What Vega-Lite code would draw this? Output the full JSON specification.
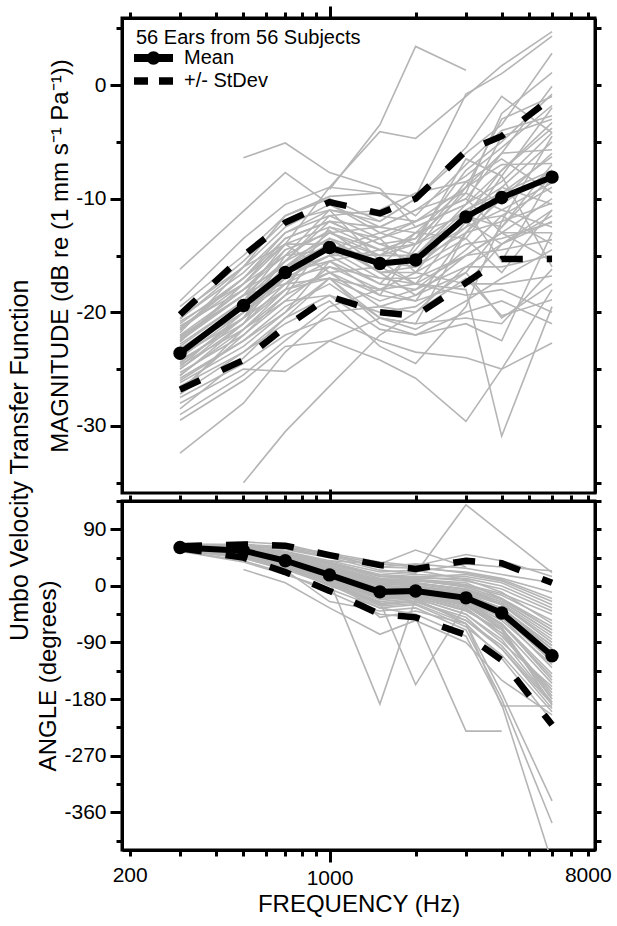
{
"$schema": "https://vega.github.io/schema/vega-lite/v6.json",
"padding": {"left": 8, "top": 3, "right": 5, "bottom": 5},
"background": "white",
"config": {
 "font": "Liberation Sans",
 "view": {"stroke": "black", "strokeWidth": 3},
 "axis": {"domainColor": "black", "domainWidth": 3, "tickColor": "black", "tickWidth": 3, "labelColor": "black", "labelFont": "Liberation Sans", "labelFontSize": 21, "titleFont": "Liberation Sans", "titleFontSize": 24, "titleFontWeight": "normal", "titleColor": "black", "grid": false, "labelOverlap": false, "labelFlush": false}
},
"title": {"text": "Umbo Velocity Transfer Function", "orient": "left", "anchor": "middle", "fontSize": 25, "fontWeight": "normal", "font": "Liberation Sans", "color": "black", "offset": 2},
"bounds": "flush",
"spacing": 8,
"resolve": {"scale": {"x": "independent", "y": "independent", "shape": "independent"}, "legend": {"shape": "independent"}},
"datasets": {
"stats": [
{"s":"Mean","leg":"Mean","f":300,"m":-23.6,"a":61},{"s":"Mean","leg":"Mean","f":500,"m":-19.4,"a":56},{"s":"Mean","leg":"Mean","f":700,"m":-16.5,"a":40},{"s":"Mean","leg":"Mean","f":1000,"m":-14.3,"a":17.5},{"s":"Mean","leg":"Mean","f":1500,"m":-15.7,"a":-9.5},{"s":"Mean","leg":"Mean","f":2000,"m":-15.4,"a":-8},{"s":"Mean","leg":"Mean","f":3000,"m":-11.6,"a":-19},{"s":"Mean","leg":"Mean","f":4000,"m":-9.9,"a":-43},{"s":"Mean","leg":"Mean","f":6000,"m":-8.1,"a":-111},
{"s":"Upper","leg":"+/- StDev","f":300,"m":-20.2,"a":63},{"s":"Upper","leg":"+/- StDev","f":500,"m":-15.0,"a":66},{"s":"Upper","leg":"+/- StDev","f":700,"m":-12.1,"a":64},{"s":"Upper","leg":"+/- StDev","f":1000,"m":-10.3,"a":49},{"s":"Upper","leg":"+/- StDev","f":1500,"m":-11.3,"a":33},{"s":"Upper","leg":"+/- StDev","f":2000,"m":-10.0,"a":27},{"s":"Upper","leg":"+/- StDev","f":3000,"m":-5.8,"a":40},{"s":"Upper","leg":"+/- StDev","f":4000,"m":-4.5,"a":36},{"s":"Upper","leg":"+/- StDev","f":6000,"m":-1.1,"a":5},
{"s":"Lower","leg":"+/- StDev","f":300,"m":-26.8,"a":60},{"s":"Lower","leg":"+/- StDev","f":500,"m":-24.2,"a":45},{"s":"Lower","leg":"+/- StDev","f":700,"m":-21.3,"a":22},{"s":"Lower","leg":"+/- StDev","f":1000,"m":-18.6,"a":-8},{"s":"Lower","leg":"+/- StDev","f":1500,"m":-20.0,"a":-45},{"s":"Lower","leg":"+/- StDev","f":2000,"m":-20.3,"a":-50},{"s":"Lower","leg":"+/- StDev","f":3000,"m":-17.4,"a":-78},{"s":"Lower","leg":"+/- StDev","f":4000,"m":-15.3,"a":-118},{"s":"Lower","leg":"+/- StDev","f":6000,"m":-15.3,"a":-221}
],
"ears": [
{"e":1,"f":300,"m":-16.2,"a":64},{"e":1,"f":500,"m":-11.1,"a":62},{"e":1,"f":700,"m":-7.7,"a":55},{"e":1,"f":1000,"m":-10.5,"a":40},{"e":1,"f":1500,"m":-12.5,"a":22},{"e":1,"f":2000,"m":-11.0,"a":25},{"e":1,"f":3000,"m":-8.0,"a":10},{"e":1,"f":4000,"m":-5.5,"a":-10},{"e":1,"f":6000,"m":-1.8,"a":-60},
{"e":2,"f":300,"m":-19.0,"a":66},{"e":2,"f":500,"m":-13.5,"a":65},{"e":2,"f":700,"m":-10.5,"a":60},{"e":2,"f":1000,"m":-9.0,"a":50},{"e":2,"f":1500,"m":-9.5,"a":30},{"e":2,"f":2000,"m":-9.8,"a":35},{"e":2,"f":3000,"m":-0.8,"a":28},{"e":2,"f":4000,"m":1.0,"a":18},{"e":2,"f":6000,"m":4.3,"a":5},
{"e":3,"f":300,"m":-19.5,"a":63},{"e":3,"f":500,"m":-15.0,"a":58},{"e":3,"f":700,"m":-11.5,"a":48},{"e":3,"f":1000,"m":-10.0,"a":30},{"e":3,"f":1500,"m":-12.0,"a":5},{"e":3,"f":2000,"m":-10.0,"a":10},{"e":3,"f":3000,"m":-6.0,"a":5},{"e":3,"f":4000,"m":-3.5,"a":-20},{"e":3,"f":6000,"m":2.8,"a":-70},
{"e":4,"f":300,"m":-20.0,"a":60},{"e":4,"f":500,"m":-16.0,"a":52},{"e":4,"f":700,"m":-12.5,"a":38},{"e":4,"f":1000,"m":-10.5,"a":15},{"e":4,"f":1500,"m":-13.0,"a":-15},{"e":4,"f":2000,"m":-12.0,"a":-10},{"e":4,"f":3000,"m":-9.0,"a":-25},{"e":4,"f":4000,"m":-6.0,"a":-60},{"e":4,"f":6000,"m":-0.1,"a":-150},
{"e":5,"f":300,"m":-20.5,"a":61},{"e":5,"f":500,"m":-16.5,"a":55},{"e":5,"f":700,"m":-13.0,"a":40},{"e":5,"f":1000,"m":-11.5,"a":20},{"e":5,"f":1500,"m":-13.5,"a":-5},{"e":5,"f":2000,"m":-12.5,"a":0},{"e":5,"f":3000,"m":-10.5,"a":-10},{"e":5,"f":4000,"m":-8.5,"a":-40},{"e":5,"f":6000,"m":-4.2,"a":-100},
{"e":6,"f":300,"m":-21.0,"a":62},{"e":6,"f":500,"m":-17.0,"a":57},{"e":6,"f":700,"m":-13.5,"a":45},{"e":6,"f":1000,"m":-12.0,"a":25},{"e":6,"f":1500,"m":-14.0,"a":0},{"e":6,"f":2000,"m":-13.5,"a":5},{"e":6,"f":3000,"m":-9.5,"a":-5},{"e":6,"f":4000,"m":-2.5,"a":-30},{"e":6,"f":6000,"m":1.1,"a":-90},
{"e":7,"f":300,"m":-21.5,"a":59},{"e":7,"f":500,"m":-17.5,"a":50},{"e":7,"f":700,"m":-14.0,"a":35},{"e":7,"f":1000,"m":-12.5,"a":10},{"e":7,"f":1500,"m":-14.5,"a":-20},{"e":7,"f":2000,"m":-14.0,"a":-15},{"e":7,"f":3000,"m":-11.0,"a":-35},{"e":7,"f":4000,"m":-9.5,"a":-75},{"e":7,"f":6000,"m":-6.3,"a":-180},
{"e":8,"f":300,"m":-22.0,"a":63},{"e":8,"f":500,"m":-18.0,"a":60},{"e":8,"f":700,"m":-14.5,"a":50},{"e":8,"f":1000,"m":-13.0,"a":35},{"e":8,"f":1500,"m":-15.0,"a":15},{"e":8,"f":2000,"m":-15.0,"a":18},{"e":8,"f":3000,"m":-12.5,"a":15},{"e":8,"f":4000,"m":-11.0,"a":5},{"e":8,"f":6000,"m":-8.6,"a":-30},
{"e":9,"f":300,"m":-22.5,"a":65},{"e":9,"f":500,"m":-18.5,"a":63},{"e":9,"f":700,"m":-14.0,"a":58},{"e":9,"f":1000,"m":-9.0,"a":45},{"e":9,"f":1500,"m":-4.1,"a":25},{"e":9,"f":2000,"m":-4.7,"a":20},{"e":9,"f":3000,"m":-1.0,"a":129},{"e":9,"f":4000,"m":1.7,"a":84},{"e":9,"f":6000,"m":4.7,"a":21},
{"e":10,"f":300,"m":-23.0,"a":58},{"e":10,"f":500,"m":-19.0,"a":48},{"e":10,"f":700,"m":-15.5,"a":30},{"e":10,"f":1000,"m":-13.5,"a":5},{"e":10,"f":1500,"m":-16.0,"a":-30},{"e":10,"f":2000,"m":-15.5,"a":-25},{"e":10,"f":3000,"m":-13.0,"a":-50},{"e":10,"f":4000,"m":-12.0,"a":-100},{"e":10,"f":6000,"m":-10.4,"a":-195},
{"e":11,"f":300,"m":-23.5,"a":62},{"e":11,"f":500,"m":-19.5,"a":54},{"e":11,"f":700,"m":-16.0,"a":42},{"e":11,"f":1000,"m":-14.0,"a":18},{"e":11,"f":1500,"m":-16.5,"a":-10},{"e":11,"f":2000,"m":-16.5,"a":-8},{"e":11,"f":3000,"m":-14.0,"a":-20},{"e":11,"f":4000,"m":-13.5,"a":-45},{"e":11,"f":6000,"m":-12.1,"a":-120},
{"e":12,"f":300,"m":-24.0,"a":60},{"e":12,"f":500,"m":-20.0,"a":53},{"e":12,"f":700,"m":-16.5,"a":37},{"e":12,"f":1000,"m":-14.5,"a":12},{"e":12,"f":1500,"m":-17.0,"a":-15},{"e":12,"f":2000,"m":-17.0,"a":-20},{"e":12,"f":3000,"m":-15.0,"a":-60},{"e":12,"f":4000,"m":-14.5,"a":-170},{"e":12,"f":6000,"m":-13.6,"a":-342},
{"e":13,"f":300,"m":-24.5,"a":64},{"e":13,"f":500,"m":-20.5,"a":58},{"e":13,"f":700,"m":-17.0,"a":47},{"e":13,"f":1000,"m":-15.0,"a":28},{"e":13,"f":1500,"m":-17.5,"a":2},{"e":13,"f":2000,"m":-18.0,"a":3},{"e":13,"f":3000,"m":-16.0,"a":-8},{"e":13,"f":4000,"m":-16.0,"a":-25},{"e":13,"f":6000,"m":-15.0,"a":-75},
{"e":14,"f":300,"m":-25.0,"a":57},{"e":14,"f":500,"m":-21.0,"a":45},{"e":14,"f":700,"m":-17.5,"a":25},{"e":14,"f":1000,"m":-15.5,"a":-25},{"e":14,"f":1500,"m":-18.5,"a":-40},{"e":14,"f":2000,"m":-19.0,"a":-35},{"e":14,"f":3000,"m":-17.5,"a":-70},{"e":14,"f":4000,"m":-17.5,"a":-180},{"e":14,"f":6000,"m":-16.8,"a":-377},
{"e":15,"f":300,"m":-25.5,"a":61},{"e":15,"f":500,"m":-21.5,"a":56},{"e":15,"f":700,"m":-18.5,"a":43},{"e":15,"f":1000,"m":-16.5,"a":22},{"e":15,"f":1500,"m":-19.5,"a":-8},{"e":15,"f":2000,"m":-20.0,"a":-5},{"e":15,"f":3000,"m":-17.0,"a":-15},{"e":15,"f":4000,"m":-20.3,"a":-35},{"e":15,"f":6000,"m":-18.9,"a":-95},
{"e":16,"f":500,"m":-6.4,"a":70},{"e":16,"f":700,"m":-5.1,"a":66},{"e":16,"f":1000,"m":-7.7,"a":50},{"e":16,"f":1500,"m":-9.1,"a":35},{"e":16,"f":2000,"m":-12.5,"a":30},{"e":16,"f":3000,"m":-10.5,"a":20},{"e":16,"f":4000,"m":-7.5,"a":10},{"e":16,"f":6000,"m":-3.3,"a":-20},
{"e":17,"f":1000,"m":-9.2,"a":40},{"e":17,"f":1500,"m":-3.5,"a":35},{"e":17,"f":2000,"m":3.4,"a":57},{"e":17,"f":3000,"m":1.3,"a":30},
{"e":18,"f":300,"m":-26.0,"a":63},{"e":18,"f":500,"m":-22.5,"a":59},{"e":18,"f":700,"m":-19.5,"a":49},{"e":18,"f":1000,"m":-17.5,"a":30},{"e":18,"f":1500,"m":-20.5,"a":8},{"e":18,"f":2000,"m":-21.0,"a":10},{"e":18,"f":3000,"m":-20.5,"a":-2},{"e":18,"f":4000,"m":-21.0,"a":-20},{"e":18,"f":6000,"m":-16.2,"a":-65},
{"e":19,"f":300,"m":-26.5,"a":59},{"e":19,"f":500,"m":-23.5,"a":51},{"e":19,"f":700,"m":-20.5,"a":36},{"e":19,"f":1000,"m":-18.5,"a":14},{"e":19,"f":1500,"m":-21.5,"a":-18},{"e":19,"f":2000,"m":-22.0,"a":-12},{"e":19,"f":3000,"m":-21.0,"a":-30},{"e":19,"f":4000,"m":-22.5,"a":-65},{"e":19,"f":6000,"m":-13.0,"a":-190},
{"e":20,"f":300,"m":-27.5,"a":62},{"e":20,"f":500,"m":-24.5,"a":55},{"e":20,"f":700,"m":-22.0,"a":41},{"e":20,"f":1000,"m":-20.5,"a":19},{"e":20,"f":1500,"m":-22.5,"a":-50},{"e":20,"f":2000,"m":-23.5,"a":-40},{"e":20,"f":3000,"m":-24.0,"a":-60},{"e":20,"f":4000,"m":-25.0,"a":-191},{"e":20,"f":6000,"m":-18.0,"a":-191},
{"e":21,"f":300,"m":-29.5,"a":60},{"e":21,"f":500,"m":-26.0,"a":50},{"e":21,"f":700,"m":-23.0,"a":32},{"e":21,"f":1000,"m":-22.5,"a":8},{"e":21,"f":1500,"m":-24.2,"a":-188},{"e":21,"f":2000,"m":-25.8,"a":-20},{"e":21,"f":3000,"m":-29.6,"a":-45},{"e":21,"f":4000,"m":-25.0,"a":-90},{"e":21,"f":6000,"m":-22.7,"a":-160},
{"e":22,"f":300,"m":-29.0,"a":58},{"e":22,"f":500,"m":-25.5,"a":47},{"e":22,"f":700,"m":-22.5,"a":30},{"e":22,"f":1000,"m":-19.5,"a":0},{"e":22,"f":1500,"m":-18.0,"a":-25},{"e":22,"f":2000,"m":-17.5,"a":-157},{"e":22,"f":3000,"m":-18.0,"a":-30},{"e":22,"f":4000,"m":-30.9,"a":-70},{"e":22,"f":6000,"m":-19.5,"a":-180},
{"e":23,"f":300,"m":-32.4,"a":56},{"e":23,"f":500,"m":-28.0,"a":40},{"e":23,"f":700,"m":-23.5,"a":20},{"e":23,"f":1000,"m":-20.0,"a":-10},{"e":23,"f":1500,"m":-19.5,"a":-45},{"e":23,"f":2000,"m":-18.5,"a":-50},{"e":23,"f":3000,"m":-15.0,"a":-231},{"e":23,"f":4000,"m":-13.0,"a":-231},{"e":23,"f":6000,"m":-10.0,"a":null},
{"e":24,"f":500,"m":-35.0,"a":26},{"e":24,"f":700,"m":-30.5,"a":5},{"e":24,"f":1000,"m":-26.5,"a":-35},{"e":24,"f":1500,"m":-22.0,"a":-77},{"e":24,"f":2000,"m":-20.0,"a":-55},{"e":24,"f":3000,"m":-16.0,"a":-90},{"e":24,"f":4000,"m":-14.0,"a":-150},{"e":24,"f":6000,"m":-11.5,"a":-205},
{"e":25,"f":300,"m":-28.0,"a":55},{"e":25,"f":500,"m":-25.0,"a":38},{"e":25,"f":700,"m":-25.2,"a":18},{"e":25,"f":1000,"m":-22.5,"a":-5},{"e":25,"f":1500,"m":-20.5,"a":-35},{"e":25,"f":2000,"m":-21.5,"a":-45},{"e":25,"f":3000,"m":-19.0,"a":-80},{"e":25,"f":4000,"m":-17.0,"a":-188},{"e":25,"f":6000,"m":-14.5,"a":-440},
{"e":26,"f":300,"m":-21.8,"a":66},{"e":26,"f":500,"m":-16.0,"a":66},{"e":26,"f":700,"m":-11.5,"a":62},{"e":26,"f":1000,"m":-9.8,"a":52},{"e":26,"f":1500,"m":-9.5,"a":38},{"e":26,"f":2000,"m":-11.5,"a":32},{"e":26,"f":3000,"m":-7.0,"a":50},{"e":26,"f":4000,"m":-4.0,"a":40},{"e":26,"f":6000,"m":-2.7,"a":15},
{"e":27,"f":300,"m":-22.3,"a":64},{"e":27,"f":500,"m":-18.0,"a":62},{"e":27,"f":700,"m":-15.0,"a":54},{"e":27,"f":1000,"m":-11.0,"a":38},{"e":27,"f":1500,"m":-12.0,"a":18},{"e":27,"f":2000,"m":-10.0,"a":22},{"e":27,"f":3000,"m":-5.5,"a":35},{"e":27,"f":4000,"m":-1.0,"a":30},{"e":27,"f":6000,"m":-4.2,"a":24},
{"e":28,"f":300,"m":-23.2,"a":62},{"e":28,"f":500,"m":-19.5,"a":58},{"e":28,"f":700,"m":-15.5,"a":46},{"e":28,"f":1000,"m":-11.5,"a":26},{"e":28,"f":1500,"m":-11.0,"a":5},{"e":28,"f":2000,"m":-9.5,"a":8},{"e":28,"f":3000,"m":-8.5,"a":0},{"e":28,"f":4000,"m":-10.5,"a":-15},{"e":28,"f":6000,"m":-7.5,"a":-55},
{"e":29,"f":300,"m":-24.2,"a":63},{"e":29,"f":500,"m":-21.0,"a":57},{"e":29,"f":700,"m":-18.0,"a":44},{"e":29,"f":1000,"m":-12.5,"a":20},{"e":29,"f":1500,"m":-13.5,"a":-5},{"e":29,"f":2000,"m":-12.0,"a":-2},{"e":29,"f":3000,"m":-10.0,"a":-12},{"e":29,"f":4000,"m":-6.0,"a":-30},{"e":29,"f":6000,"m":-5.7,"a":-85},
{"e":30,"f":300,"m":-20.8,"a":61},{"e":30,"f":500,"m":-17.5,"a":53},{"e":30,"f":700,"m":-15.0,"a":39},{"e":30,"f":1000,"m":-14.5,"a":16},{"e":30,"f":1500,"m":-15.0,"a":-12},{"e":30,"f":2000,"m":-13.0,"a":-10},{"e":30,"f":3000,"m":-11.5,"a":-25},{"e":30,"f":4000,"m":-12.5,"a":-50},{"e":30,"f":6000,"m":-8.0,"a":-130},
{"e":31,"f":300,"m":-22.8,"a":60},{"e":31,"f":500,"m":-19.0,"a":51},{"e":31,"f":700,"m":-16.5,"a":34},{"e":31,"f":1000,"m":-15.5,"a":10},{"e":31,"f":1500,"m":-17.5,"a":-22},{"e":31,"f":2000,"m":-14.5,"a":-18},{"e":31,"f":3000,"m":-9.0,"a":-40},{"e":31,"f":4000,"m":-7.0,"a":-70},{"e":31,"f":6000,"m":-6.9,"a":-175},
{"e":32,"f":300,"m":-24.8,"a":62},{"e":32,"f":500,"m":-20.0,"a":56},{"e":32,"f":700,"m":-17.5,"a":42},{"e":32,"f":1000,"m":-14.0,"a":21},{"e":32,"f":1500,"m":-15.5,"a":-7},{"e":32,"f":2000,"m":-16.0,"a":-6},{"e":32,"f":3000,"m":-13.5,"a":-18},{"e":32,"f":4000,"m":-9.5,"a":-38},{"e":32,"f":6000,"m":-7.5,"a":-110},
{"e":33,"f":300,"m":-25.3,"a":64},{"e":33,"f":500,"m":-22.0,"a":61},{"e":33,"f":700,"m":-19.0,"a":52},{"e":33,"f":1000,"m":-16.0,"a":36},{"e":33,"f":1500,"m":-17.0,"a":12},{"e":33,"f":2000,"m":-17.5,"a":15},{"e":33,"f":3000,"m":-12.0,"a":8},{"e":33,"f":4000,"m":-14.0,"a":-5},{"e":33,"f":6000,"m":-12.0,"a":-40},
{"e":34,"f":300,"m":-23.8,"a":59},{"e":34,"f":500,"m":-20.5,"a":49},{"e":34,"f":700,"m":-18.0,"a":33},{"e":34,"f":1000,"m":-17.0,"a":6},{"e":34,"f":1500,"m":-19.0,"a":-28},{"e":34,"f":2000,"m":-18.0,"a":-22},{"e":34,"f":3000,"m":-14.5,"a":-55},{"e":34,"f":4000,"m":-11.5,"a":-95},{"e":34,"f":6000,"m":-9.0,"a":-185},
{"e":35,"f":300,"m":-22.1,"a":63},{"e":35,"f":500,"m":-18.5,"a":59},{"e":35,"f":700,"m":-15.5,"a":49},{"e":35,"f":1000,"m":-12.0,"a":32},{"e":35,"f":1500,"m":-14.0,"a":10},{"e":35,"f":2000,"m":-15.0,"a":12},{"e":35,"f":3000,"m":-11.0,"a":12},{"e":35,"f":4000,"m":-9.0,"a":0},{"e":35,"f":6000,"m":-10.5,"a":-35},
{"e":36,"f":300,"m":-20.2,"a":61},{"e":36,"f":500,"m":-15.5,"a":54},{"e":36,"f":700,"m":-12.0,"a":39},{"e":36,"f":1000,"m":-11.0,"a":14},{"e":36,"f":1500,"m":-15.5,"a":-15},{"e":36,"f":2000,"m":-17.5,"a":-12},{"e":36,"f":3000,"m":-15.0,"a":-30},{"e":36,"f":4000,"m":-13.0,"a":-60},{"e":36,"f":6000,"m":-13.0,"a":-140},
{"e":37,"f":300,"m":-26.8,"a":57},{"e":37,"f":500,"m":-22.0,"a":44},{"e":37,"f":700,"m":-18.5,"a":26},{"e":37,"f":1000,"m":-13.5,"a":2},{"e":37,"f":1500,"m":-16.5,"a":-35},{"e":37,"f":2000,"m":-16.0,"a":-30},{"e":37,"f":3000,"m":-12.5,"a":-65},{"e":37,"f":4000,"m":-8.0,"a":-110},{"e":37,"f":6000,"m":-2.0,"a":-200},
{"e":38,"f":300,"m":-24.6,"a":62},{"e":38,"f":500,"m":-21.5,"a":57},{"e":38,"f":700,"m":-19.0,"a":43},{"e":38,"f":1000,"m":-18.5,"a":24},{"e":38,"f":1500,"m":-20.0,"a":-3},{"e":38,"f":2000,"m":-19.5,"a":-8},{"e":38,"f":3000,"m":-16.5,"a":-20},{"e":38,"f":4000,"m":-20.5,"a":-45},{"e":38,"f":6000,"m":-17.5,"a":-115},
{"e":39,"f":300,"m":-21.2,"a":65},{"e":39,"f":500,"m":-18.0,"a":64},{"e":39,"f":700,"m":-16.0,"a":59},{"e":39,"f":1000,"m":-13.0,"a":47},{"e":39,"f":1500,"m":-14.5,"a":30},{"e":39,"f":2000,"m":-13.5,"a":28},{"e":39,"f":3000,"m":-7.5,"a":22},{"e":39,"f":4000,"m":-5.0,"a":12},{"e":39,"f":6000,"m":-0.8,"a":-10},
{"e":40,"f":300,"m":-23.4,"a":60},{"e":40,"f":500,"m":-20.0,"a":52},{"e":40,"f":700,"m":-17.0,"a":37},{"e":40,"f":1000,"m":-16.0,"a":13},{"e":40,"f":1500,"m":-18.0,"a":-18},{"e":40,"f":2000,"m":-19.0,"a":-16},{"e":40,"f":3000,"m":-13.0,"a":-35},{"e":40,"f":4000,"m":-10.0,"a":-80},{"e":40,"f":6000,"m":-6.0,"a":-165},
{"e":41,"f":300,"m":-25.8,"a":63},{"e":41,"f":500,"m":-22.5,"a":58},{"e":41,"f":700,"m":-20.0,"a":46},{"e":41,"f":1000,"m":-17.0,"a":27},{"e":41,"f":1500,"m":-18.0,"a":3},{"e":41,"f":2000,"m":-16.5,"a":0},{"e":41,"f":3000,"m":-11.0,"a":-10},{"e":41,"f":4000,"m":-15.5,"a":-28},{"e":41,"f":6000,"m":-8.0,"a":-80},
{"e":42,"f":300,"m":-22.6,"a":61},{"e":42,"f":500,"m":-17.5,"a":55},{"e":42,"f":700,"m":-13.5,"a":41},{"e":42,"f":1000,"m":-12.0,"a":18},{"e":42,"f":1500,"m":-12.5,"a":-10},{"e":42,"f":2000,"m":-13.0,"a":-12},{"e":42,"f":3000,"m":-13.5,"a":-25},{"e":42,"f":4000,"m":-16.5,"a":-55},{"e":42,"f":6000,"m":-11.0,"a":-125},
{"e":43,"f":300,"m":-27.2,"a":58},{"e":43,"f":500,"m":-23.5,"a":46},{"e":43,"f":700,"m":-21.0,"a":28},{"e":43,"f":1000,"m":-19.0,"a":3},{"e":43,"f":1500,"m":-23.0,"a":-32},{"e":43,"f":2000,"m":-24.5,"a":-28},{"e":43,"f":3000,"m":-19.5,"a":-60},{"e":43,"f":4000,"m":-12.0,"a":-115},{"e":43,"f":6000,"m":-4.5,"a":-215},
{"e":44,"f":300,"m":-24.4,"a":64},{"e":44,"f":500,"m":-20.5,"a":60},{"e":44,"f":700,"m":-15.0,"a":51},{"e":44,"f":1000,"m":-12.8,"a":34},{"e":44,"f":1500,"m":-16.0,"a":8},{"e":44,"f":2000,"m":-17.5,"a":10},{"e":44,"f":3000,"m":-18.5,"a":2},{"e":44,"f":4000,"m":-18.0,"a":-12},{"e":44,"f":6000,"m":-20.0,"a":-45},
{"e":45,"f":300,"m":-21.6,"a":62},{"e":45,"f":500,"m":-17.0,"a":56},{"e":45,"f":700,"m":-13.0,"a":44},{"e":45,"f":1000,"m":-11.0,"a":23},{"e":45,"f":1500,"m":-11.5,"a":-4},{"e":45,"f":2000,"m":-12.0,"a":-3},{"e":45,"f":3000,"m":-10.0,"a":-14},{"e":45,"f":4000,"m":-13.0,"a":-35},{"e":45,"f":6000,"m":-15.5,"a":-100},
{"e":46,"f":300,"m":-26.2,"a":59},{"e":46,"f":500,"m":-23.0,"a":50},{"e":46,"f":700,"m":-20.0,"a":33},{"e":46,"f":1000,"m":-15.5,"a":9},{"e":46,"f":1500,"m":-14.5,"a":-25},{"e":46,"f":2000,"m":-15.5,"a":-20},{"e":46,"f":3000,"m":-11.5,"a":-45},{"e":46,"f":4000,"m":-7.5,"a":-85},{"e":46,"f":6000,"m":-3.8,"a":-185},
{"e":47,"f":300,"m":-20.6,"a":63},{"e":47,"f":500,"m":-16.0,"a":59},{"e":47,"f":700,"m":-14.0,"a":48},{"e":47,"f":1000,"m":-16.5,"a":29},{"e":47,"f":1500,"m":-18.5,"a":6},{"e":47,"f":2000,"m":-14.0,"a":4},{"e":47,"f":3000,"m":-8.5,"a":-5},{"e":47,"f":4000,"m":-6.5,"a":-22},{"e":47,"f":6000,"m":-9.5,"a":-70},
{"e":48,"f":300,"m":-25.6,"a":61},{"e":48,"f":500,"m":-21.0,"a":54},{"e":48,"f":700,"m":-16.0,"a":40},{"e":48,"f":1000,"m":-14.5,"a":17},{"e":48,"f":1500,"m":-13.0,"a":-12},{"e":48,"f":2000,"m":-14.0,"a":-10},{"e":48,"f":3000,"m":-12.0,"a":-28},{"e":48,"f":4000,"m":-11.5,"a":-62},{"e":48,"f":6000,"m":-14.0,"a":-145},
{"e":49,"f":300,"m":-23.6,"a":60},{"e":49,"f":500,"m":-19.5,"a":52},{"e":49,"f":700,"m":-17.0,"a":38},{"e":49,"f":1000,"m":-15.0,"a":14},{"e":49,"f":1500,"m":-13.5,"a":-16},{"e":49,"f":2000,"m":-16.5,"a":-14},{"e":49,"f":3000,"m":-17.5,"a":-32},{"e":49,"f":4000,"m":-14.0,"a":-68},{"e":49,"f":6000,"m":-11.0,"a":-155},
{"e":50,"f":300,"m":-22.4,"a":64},{"e":50,"f":500,"m":-18.5,"a":61},{"e":50,"f":700,"m":-17.5,"a":53},{"e":50,"f":1000,"m":-17.0,"a":37},{"e":50,"f":1500,"m":-20.5,"a":16},{"e":50,"f":2000,"m":-21.0,"a":14},{"e":50,"f":3000,"m":-13.0,"a":18},{"e":50,"f":4000,"m":-9.0,"a":8},{"e":50,"f":6000,"m":-5.0,"a":-25},
{"e":51,"f":300,"m":-24.0,"a":62},{"e":51,"f":500,"m":-19.0,"a":57},{"e":51,"f":700,"m":-14.5,"a":45},{"e":51,"f":1000,"m":-13.0,"a":25},{"e":51,"f":1500,"m":-12.5,"a":0},{"e":51,"f":2000,"m":-11.0,"a":-2},{"e":51,"f":3000,"m":-9.5,"a":-15},{"e":51,"f":4000,"m":-11.0,"a":-40},{"e":51,"f":6000,"m":-12.5,"a":-105},
{"e":52,"f":300,"m":-27.0,"a":58},{"e":52,"f":500,"m":-21.5,"a":48},{"e":52,"f":700,"m":-18.0,"a":31},{"e":52,"f":1000,"m":-16.5,"a":7},{"e":52,"f":1500,"m":-16.0,"a":-28},{"e":52,"f":2000,"m":-13.0,"a":-25},{"e":52,"f":3000,"m":-9.0,"a":-55},{"e":52,"f":4000,"m":-3.0,"a":-100},{"e":52,"f":6000,"m":-1.0,"a":-188},
{"e":53,"f":300,"m":-21.4,"a":63},{"e":53,"f":500,"m":-17.0,"a":58},{"e":53,"f":700,"m":-14.0,"a":47},{"e":53,"f":1000,"m":-14.0,"a":27},{"e":53,"f":1500,"m":-16.5,"a":4},{"e":53,"f":2000,"m":-18.5,"a":5},{"e":53,"f":3000,"m":-16.5,"a":-6},{"e":53,"f":4000,"m":-12.5,"a":-25},{"e":53,"f":6000,"m":-7.0,"a":-75},
{"e":54,"f":300,"m":-25.0,"a":61},{"e":54,"f":500,"m":-20.5,"a":55},{"e":54,"f":700,"m":-16.0,"a":42},{"e":54,"f":1000,"m":-13.5,"a":19},{"e":54,"f":1500,"m":-15.0,"a":-8},{"e":54,"f":2000,"m":-14.0,"a":-9},{"e":54,"f":3000,"m":-6.5,"a":-22},{"e":54,"f":4000,"m":-8.0,"a":-48},{"e":54,"f":6000,"m":-16.0,"a":-120},
{"e":55,"f":300,"m":-22.2,"a":60},{"e":55,"f":500,"m":-18.5,"a":51},{"e":55,"f":700,"m":-16.5,"a":35},{"e":55,"f":1000,"m":-15.0,"a":11},{"e":55,"f":1500,"m":-15.0,"a":-20},{"e":55,"f":2000,"m":-15.0,"a":-18},{"e":55,"f":3000,"m":-10.5,"a":-38},{"e":55,"f":4000,"m":-4.5,"a":-75},{"e":55,"f":6000,"m":-3.0,"a":-170},
{"e":56,"f":300,"m":-28.5,"a":62},{"e":56,"f":500,"m":-24.0,"a":57},{"e":56,"f":700,"m":-20.5,"a":44},{"e":56,"f":1000,"m":-17.0,"a":22},{"e":56,"f":1500,"m":-21.0,"a":-5},{"e":56,"f":2000,"m":-22.0,"a":-4},{"e":56,"f":3000,"m":-20.0,"a":-16},{"e":56,"f":4000,"m":-19.0,"a":-36},{"e":56,"f":6000,"m":-21.0,"a":-95}
]
},
"vconcat": [
{
 "width": 473, "height": 475,
 "resolve": {"axis": {"x": "independent", "y": "independent"}},
 "layer": [
  {
   "data": {"name": "ears"},
   "mark": {"type": "line", "color": "#b5b5b5", "strokeWidth": 1.6, "clip": true},
   "encoding": {
    "x": {"field": "f", "type": "quantitative", "scale": {"type": "log", "domain": [188, 8480], "nice": false},
      "axis": {"orient": "top", "values": [200,300,400,500,600,700,800,900,1000,2000,3000,4000,5000,6000,7000,8000], "labels": false, "title": null, "tickSize": {"condition": {"test": "datum.value === 1000", "value": 12}, "value": 6}}},
    "y": {"field": "m", "type": "quantitative", "scale": {"domain": [-35.9, 5.9], "nice": false, "zero": false},
      "axis": {"orient": "left", "values": [5,0,-5,-10,-15,-20,-25,-30,-35], "labelExpr": "datum.value % 10 === 0 ? '' + datum.value : ''", "tickSize": {"condition": {"test": "datum.value % 10 === 0", "value": 12}, "value": 6}, "labelPadding": 4, "title": "MAGNITUDE (dB re (1 mm s⁻¹ Pa⁻¹))", "titlePadding": 3}},
    "detail": {"field": "e", "type": "nominal"}
   }
  },
  {
   "data": {"name": "stats"},
   "transform": [{"filter": "datum.s !== 'Mean'"}],
   "mark": {"type": "line", "color": "black", "strokeWidth": 6.5, "strokeCap": "butt", "strokeDash": [22, 24], "clip": true},
   "encoding": {
    "x": {"field": "f", "type": "quantitative", "scale": {"type": "log", "domain": [188, 8480], "nice": false}, "axis": null},
    "y": {"field": "m", "type": "quantitative", "scale": {"domain": [-35.9, 5.9], "nice": false, "zero": false},
      "axis": {"orient": "right", "values": [5,0,-5,-10,-15,-20,-25,-30,-35], "labels": false, "title": null, "tickSize": 6}},
    "detail": {"field": "s", "type": "nominal"}
   }
  },
  {
   "data": {"name": "stats"},
   "transform": [{"filter": "datum.s === 'Mean'"}],
   "mark": {"type": "line", "color": "black", "strokeWidth": 6, "clip": true, "point": {"filled": true, "size": 180, "color": "black"}},
   "encoding": {
    "x": {"field": "f", "type": "quantitative", "scale": {"type": "log", "domain": [188, 8480], "nice": false}, "axis": null},
    "y": {"field": "m", "type": "quantitative", "scale": {"domain": [-35.9, 5.9], "nice": false, "zero": false}, "axis": null}
   }
  },
  {
   "data": {"name": "stats"},
   "transform": [{"filter": "datum.s === 'Mean'"}],
   "mark": {"type": "point", "filled": true, "color": "black", "opacity": 0, "size": 10},
   "encoding": {
    "x": {"field": "f", "type": "quantitative", "scale": {"type": "log", "domain": [188, 8480], "nice": false}, "axis": null},
    "y": {"field": "m", "type": "quantitative", "scale": {"domain": [-35.9, 5.9], "nice": false, "zero": false}, "axis": null},
    "shape": {"field": "leg", "type": "nominal",
      "scale": {"domain": ["Mean", "+/- StDev"], "range": ["M-1.2,-0.4H2.7V0.4H-1.2Z M0.08,0A0.67,0.67,0,1,1,1.42,0A0.67,0.67,0,1,1,0.08,0Z", "M-1.2,-0.37H0.2V0.37H-1.2Z M1.3,-0.37H2.7V0.37H1.3Z"]},
      "legend": {
        "title": "56 Ears from 56 Subjects", "orient": "none", "legendX": 14, "legendY": 10, "padding": 0,
        "titleFont": "Liberation Sans", "titleFontSize": 20, "titleFontWeight": "normal", "titleColor": "black", "titlePadding": 0, "titleLimit": 0,
        "labelFont": "Liberation Sans", "labelFontSize": 20, "labelColor": "black", "labelOffset": 28, "labelLimit": 0,
        "symbolSize": 400, "rowPadding": 3, "symbolOpacity": 1, "symbolFillColor": "black", "symbolStrokeColor": "black", "symbolStrokeWidth": 0
      }}
   }
  }
 ]
},
{
 "width": 473, "height": 349,
 "resolve": {"axis": {"x": "independent", "y": "independent"}},
 "layer": [
  {
   "data": {"name": "ears"},
   "mark": {"type": "line", "color": "#b5b5b5", "strokeWidth": 1.6, "clip": true},
   "encoding": {
    "x": {"field": "f", "type": "quantitative", "scale": {"type": "log", "domain": [188, 8480], "nice": false},
      "axis": {"orient": "top", "values": [200,300,400,500,600,700,800,900,1000,2000,3000,4000,5000,6000,7000,8000], "labels": false, "title": null, "tickSize": {"condition": {"test": "datum.value === 1000", "value": 12}, "value": 6}}},
    "y": {"field": "a", "type": "quantitative", "scale": {"domain": [-420, 135], "nice": false, "zero": false},
      "axis": {"orient": "left", "values": [135,90,45,0,-45,-90,-135,-180,-225,-270,-315,-360,-405], "labelExpr": "datum.value % 90 === 0 ? '' + datum.value : ''", "tickSize": {"condition": {"test": "datum.value % 90 === 0", "value": 12}, "value": 6}, "labelPadding": 4, "title": "ANGLE (degrees)", "titlePadding": 3}},
    "detail": {"field": "e", "type": "nominal"}
   }
  },
  {
   "data": {"name": "stats"},
   "transform": [{"filter": "datum.s !== 'Mean'"}],
   "mark": {"type": "line", "color": "black", "strokeWidth": 6.5, "strokeCap": "butt", "strokeDash": [22, 24], "clip": true},
   "encoding": {
    "x": {"field": "f", "type": "quantitative", "scale": {"type": "log", "domain": [188, 8480], "nice": false},
      "axis": {"orient": "bottom", "values": [200,300,400,500,600,700,800,900,1000,2000,3000,4000,5000,6000,7000,8000], "labelExpr": "datum.value === 200 || datum.value === 1000 || datum.value === 8000 ? '' + datum.value : ''", "tickSize": {"condition": {"test": "datum.value === 1000", "value": 12}, "value": 6}, "labelPadding": {"condition": {"test": "datum.value === 1000", "value": 5}, "value": 8}, "title": "FREQUENCY (Hz)", "titleFontSize": 24, "titlePadding": 4}},
    "y": {"field": "a", "type": "quantitative", "scale": {"domain": [-420, 135], "nice": false, "zero": false},
      "axis": {"orient": "right", "values": [135,90,45,0,-45,-90,-135,-180,-225,-270,-315,-360,-405], "labels": false, "title": null, "tickSize": 6}},
    "detail": {"field": "s", "type": "nominal"}
   }
  },
  {
   "data": {"name": "stats"},
   "transform": [{"filter": "datum.s === 'Mean'"}],
   "mark": {"type": "line", "color": "black", "strokeWidth": 6, "clip": true, "point": {"filled": true, "size": 180, "color": "black"}},
   "encoding": {
    "x": {"field": "f", "type": "quantitative", "scale": {"type": "log", "domain": [188, 8480], "nice": false}, "axis": null},
    "y": {"field": "a", "type": "quantitative", "scale": {"domain": [-420, 135], "nice": false, "zero": false}, "axis": null}
   }
  }
 ]
}
]
}
